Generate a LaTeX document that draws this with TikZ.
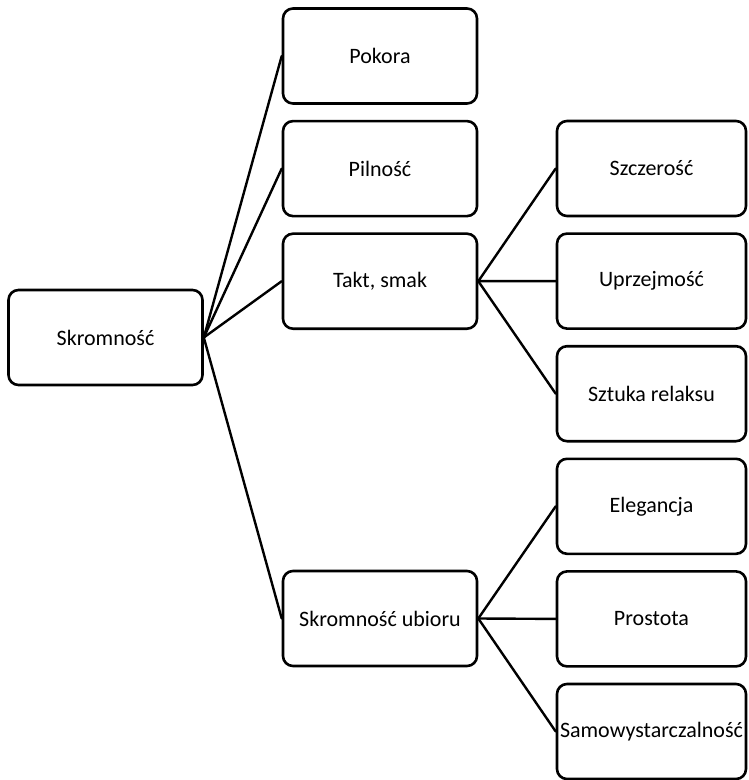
\documentclass[tikz,border=0pt]{standalone}
\usepackage{fontspec}
\setmainfont{Carlito}
\usepackage{tikz}
\usetikzlibrary{positioning}
\tikzstyle{box} = [rectangle, rounded corners=5pt, draw=black, line width=1.3pt, fill=white, minimum width=97pt, minimum height=47.5pt, inner xsep=1pt, text centered, font=\fontsize{11}{13}\selectfont]
\tikzstyle{leaf} = [box, minimum width=94.5pt]
\tikzstyle{link} = [line width=1.2pt, line cap=round]

\begin{document}
\begin{tikzpicture}[x=0.5pt, y=-0.5pt, node distance=7.5pt]
            \useasboundingbox (0,0) rectangle (748,780);

            \node[box] (root) at (105.5,337.5) {Skromność};

            \node[box] (pokora) at (380,56) {Pokora};
            \node[box, below=of pokora] (pilnosc) {Pilność};
            \node[box, below=of pilnosc] (takt) {Takt, smak};
            \node[box] (ubior) at (380,618.5) {Skromność ubioru};

            \node[leaf] (szczerosc) at (651.5,168.5) {Szczerość};
            \node[leaf, below=of szczerosc] (uprzejmosc) {Uprzejmość};
            \node[leaf, below=of uprzejmosc] (relaks) {Sztuka relaksu};
            \node[leaf, below=of relaks] (elegancja) {Elegancja};
            \node[leaf, below=of elegancja] (prostota) {Prostota};
            \node[leaf, below=of prostota] (samo) {Samowystarczalność};

            % root to middle column
            \foreach \n in {pokora, pilnosc, takt, ubior}
                \draw[link] (root.east) -- (\n.west);

            % middle to right column
            \foreach \n in {szczerosc, uprzejmosc, relaks}
                \draw[link] (takt.east) -- (\n.west);
            \foreach \n in {elegancja, prostota, samo}
                \draw[link] (ubior.east) -- (\n.west);

        \end{tikzpicture}
\end{document}
